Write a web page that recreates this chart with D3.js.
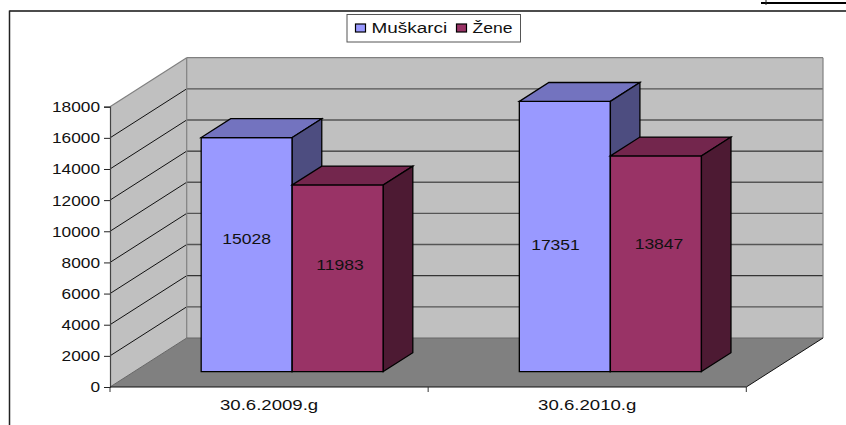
<!DOCTYPE html>
<html><head><meta charset="utf-8">
<script src="https://cdn.jsdelivr.net/npm/d3@7"></script>
<style>html,body{margin:0;padding:0;background:#fff}svg{display:block}text{font-family:"Liberation Sans",Arial,sans-serif;font-size:15.5px;fill:#111}</style>
</head><body><svg id="c" width="846" height="425"></svg>
<script>
const categories=["30.6.2009.g","30.6.2010.g"];
const seriesNames=["Muškarci","Žene"];
const muskarci=[15028,17351];
const zene=[11983,13847];
const yTicks=[0,2000,4000,6000,8000,10000,12000,14000,16000,18000];
const frontColors=["#9999ff","#993366"];
const topColors=["#7373bf","#73264d"];
const sideColors=["#4d4d80","#4d1a33"];
const seriesValues=[muskarci,zene];

const svg=d3.select("#c");
const y=d3.scaleLinear().domain([0,18000]).range([387,106.7]);
const x0=d3.scaleBand().domain(categories).range([110,746.3]);
const x1=d3.scaleBand().domain(d3.range(seriesNames.length)).range([-1,x0.bandwidth()-1]).paddingInner(0).paddingOuter(0.747);
const depthX=d3.scaleLinear().domain([0,1]).range([0,76.7]);
const depthY=d3.scaleLinear().domain([0,1]).range([0,-49]);
const P=(px,py,d)=>[px+depthX(d),py+depthY(d)];
const poly=(pts,fill,stroke,sw)=>svg.append("polygon").attr("points",pts.map(p=>p.join(",")).join(" ")).attr("fill",fill).attr("stroke",stroke||"none").attr("stroke-width",sw||1).attr("stroke-linejoin","miter");
const line=(a,b,stroke,sw)=>svg.append("line").attr("x1",a[0]).attr("y1",a[1]).attr("x2",b[0]).attr("y2",b[1]).attr("stroke",stroke).attr("stroke-width",sw||1);
const stretch=(sel,ratio)=>sel.each(function(){this.setAttribute("textLength",this.getComputedTextLength()*ratio);this.setAttribute("lengthAdjust","spacingAndGlyphs");});

// outer frame
line([9.5,11],[846,11],"#111",1.5);
line([9.5,10.5],[9.5,425],"#222",1.5);
line([761,3],[846,3],"#000",2);
line([766,0],[766,5],"#222",1);

const [xl,xr]=x0.range();
// walls
poly([P(xl,y(0),0),P(xl,y(18000),0),P(xl,y(18000),1),P(xl,y(0),1)],"#c0c0c0");
poly([P(xl,y(0),1),P(xl,y(18000),1),P(xr,y(18000),1),P(xr,y(0),1)],"#c0c0c0");
poly([P(xl,y(0),0),P(xl,y(0),1),P(xr,y(0),1),P(xr,y(0),0)],"#808080");
// gridlines
yTicks.slice(1,-1).forEach(t=>{
  line(P(xl,y(t),0),P(xl,y(t),1),"#111",1);
  const sharp=t===4000||t===12000;
  line(P(xl,y(t),1),P(xr,y(t),1),sharp?"#111":"#555",sharp?1:1.4);
});
// wall edges
line(P(xl,y(18000),0),P(xl,y(18000),1),"#808080",1.2);
line(P(xl,y(18000),1),P(xr,y(18000),1),"#808080",1.2);
line(P(xr,y(18000),1),P(xr,y(0),1),"#808080",1.2);
line(P(xl,y(18000),1),P(xl,y(0),1),"#808080",1.2);
line(P(xl,y(0),0),P(xl,y(0),1),"#666",1);
line(P(xl,y(0),1),P(xr,y(0),1),"#666",1.2);
line(P(xr,y(0),0),P(xr,y(0),1),"#111",1);

// axes
const yAxis=d3.axisLeft(y).tickValues(yTicks).tickFormat(d3.format("d")).tickSize(6).tickPadding(4);
const ya=svg.append("g").attr("transform",`translate(${xl},0)`).call(yAxis);
ya.attr("font-family",null).attr("font-size",null);
ya.select(".domain").attr("stroke","#444").attr("stroke-width",1.2);
ya.selectAll(".tick line").attr("stroke","#222");
ya.selectAll("text").attr("fill",null);
stretch(ya.selectAll("text"),1.114);
const xTickVals=[xl,xl+x0.step(),xr];
const xa=svg.append("g");
line([xl,y(0)],[xr,y(0)],"#111",1);
xTickVals.forEach(v=>line([v,y(0)],[v,y(0)+5],"#333",1));
stretch(xa.selectAll("text").data(categories).join("text").attr("x",d=>x0(d)+x0.bandwidth()/2).attr("y",410).attr("text-anchor","middle").text(d=>d),1.2);

// bars
const d0=0.315,d1=0.70;
const yBase=y(0);
categories.forEach((c,ci)=>{
  seriesNames.forEach((s,si)=>{
    const v=seriesValues[si][ci];
    const l=x0(c)+x1(si), r=l+x1.bandwidth(), t=y(v);
    const A=P(l,yBase,d0),B=P(r,yBase,d0),C=P(r,t,d0),D=P(l,t,d0);
    const E=P(l,t,d1),F=P(r,t,d1),G=P(r,yBase,d1);
    poly([A,B,C,D],frontColors[si],"#000",1.3);
    poly([D,C,F,E],topColors[si],"#000",1.3);
    poly([B,G,F,C],sideColors[si],"#000",1.3);
  });
});
// data labels
const labelPos=[[[246.7,238.7],[340,265]],[[555.5,245],[659,243.7]]];
categories.forEach((c,ci)=>{
  seriesNames.forEach((s,si)=>{
    stretch(svg.append("text").attr("x",labelPos[ci][si][0]).attr("y",labelPos[ci][si][1]).attr("dy",".35em").attr("text-anchor","middle").text(seriesValues[si][ci]),1.13);
  });
});

// legend
svg.append("rect").attr("x",347).attr("y",14.5).attr("width",173.5).attr("height",27.5).attr("fill","#fff").attr("stroke","#555").attr("stroke-width",1);
const lx=[355.5,456.5],tx=[371.5,472.5],lr=[1.22,1.13];
seriesNames.forEach((s,i)=>{
  svg.append("rect").attr("x",lx[i]).attr("y",24).attr("width",10).attr("height",8).attr("fill",frontColors[i]).attr("stroke","#000").attr("stroke-width",1.2);
  stretch(svg.append("text").attr("x",tx[i]).attr("y",33).text(s),lr[i]);
});
</script></body></html>
